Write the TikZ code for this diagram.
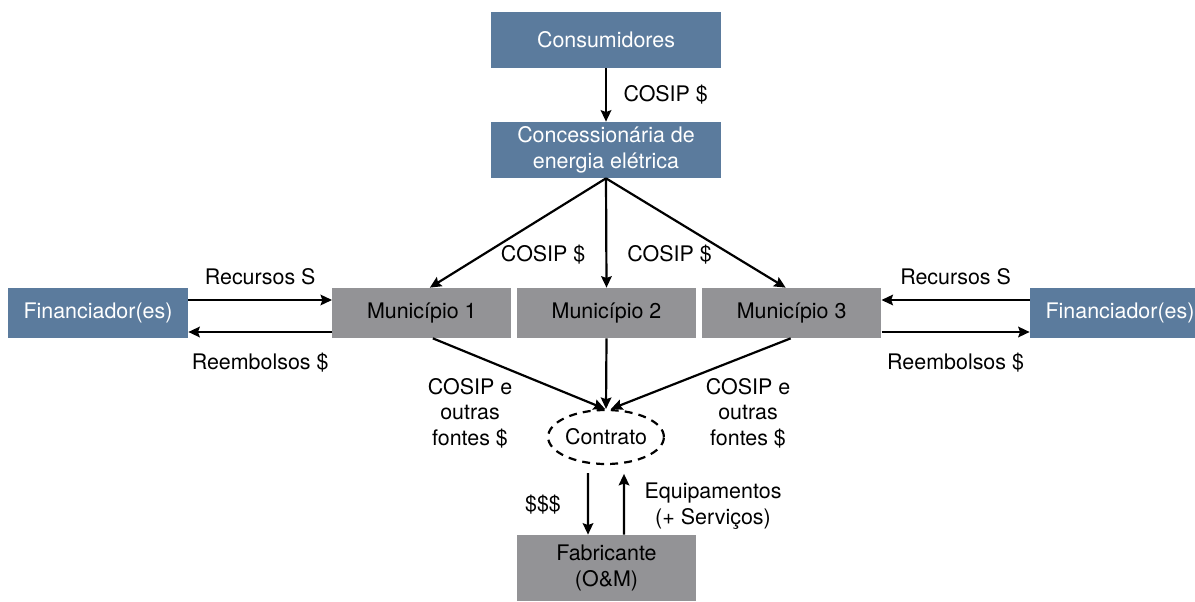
\documentclass[tikz,border=0pt]{standalone}
\usepackage{fontspec}
\setmainfont{TeX Gyre Heros}
\usetikzlibrary{positioning, arrows.meta, shapes.geometric}
\definecolor{azul}{HTML}{5B7B9D}
\definecolor{cinza}{HTML}{939396}

\begin{document}
\begin{tikzpicture}[
    x=0.02cm, y=-0.02cm,
    font=\fontsize{12.2}{14.5}\selectfont,
    bluebox/.style={fill=azul, text=white, minimum width=4.62cm, minimum height=1.12cm, align=center, inner sep=0pt},
    graybox/.style={fill=cinza, minimum width=3.58cm, minimum height=1.0cm, align=center, inner sep=0pt},
    arrow/.style={-{Stealth[length=6.5pt, width=6pt, inset=1pt]}, line width=1.25pt},
    lbl/.style={align=center}
]
\useasboundingbox (0,0) rectangle (1195,601);

\node[bluebox] (cons) at (606,40) {Consumidores};
\node[bluebox] (conc) at (606,150) {Concession\'aria de\\energia el\'etrica};

\node[graybox] (m2) at (606.5,313) {Munic\'ipio 2};
\node[graybox, left=0.1cm of m2] (m1) {Munic\'ipio 1};
\node[graybox, right=0.11cm of m2] (m3) {Munic\'ipio 3};

\node[bluebox, minimum width=3.6cm, minimum height=1.0cm] (finL) at (98,313) {Financiador(es)};
\node[bluebox, minimum width=3.6cm, minimum height=1.0cm] (finR) at (1120,313) {Financiador(es)};

\node[draw, dashed, dash pattern=on 4.5pt off 3.5pt, line width=1.25pt, ellipse,
      minimum width=2.08cm, minimum height=1.08cm, inner sep=0pt] (contrato) at (606,437) {Contrato};
\node[graybox, minimum height=1.32cm] (fab) at (606.5,568) {Fabricante\\(O\&M)};

% fluxo da COSIP
\draw[arrow] (cons) -- (conc) node[midway, right=6pt] {COSIP \$};
\draw[arrow] (conc.south) -- ([xshift=0.16cm]m1.north);
\draw[arrow] (conc.south) -- (m2.north)
    node[pos=0.7, left=8pt] {COSIP \$}
    node[pos=0.7, right=8pt] {COSIP \$};
\draw[arrow] (conc.south) -- ([xshift=-0.12cm]m3.north);

% financiadores
\draw[arrow] ([yshift=0.26cm]finL.east) -- ([yshift=0.26cm]m1.west) node[midway, above=4.5pt] {Recursos S};
\draw[arrow] ([yshift=-0.38cm]m1.west) -- ([yshift=-0.38cm]finL.east) node[midway, below=8pt] {Reembolsos \$};
\draw[arrow] ([yshift=0.26cm]finR.west) -- ([yshift=0.26cm]m3.east) node[midway, above=4.5pt] {Recursos S};
\draw[arrow] ([yshift=-0.38cm]m3.east) -- ([yshift=-0.38cm]finR.west) node[midway, below=8pt] {Reembolsos \$};

% municipios -> contrato
\draw[arrow] ([xshift=0.22cm]m1.south) -- ([xshift=-0.02cm]contrato.north);
\draw[arrow] (m2.south) -- (contrato.north);
\draw[arrow] ([xshift=-0.02cm]m3.south) -- ([xshift=0.1cm]contrato.north);
\node[lbl] (lblL) at (470,413) {COSIP e\\outras\\fontes \$};
\node[lbl] (lblR) at (748,413) {COSIP e\\outras\\fontes \$};

% contrato <-> fabricante
\draw[arrow, shorten <=4.5pt] ([xshift=-0.36cm]contrato.south) -- ([xshift=-0.37cm]fab.north);
\draw[arrow, shorten >=5pt] ([xshift=0.35cm]fab.north) -- ([xshift=0.36cm]contrato.south);
\node (pago) at (543,505) {\$\$\$};
\node[lbl] (equip) at (713,506) {Equipamentos\\(+ Servi\c{c}os)};

\end{tikzpicture}
\end{document}
